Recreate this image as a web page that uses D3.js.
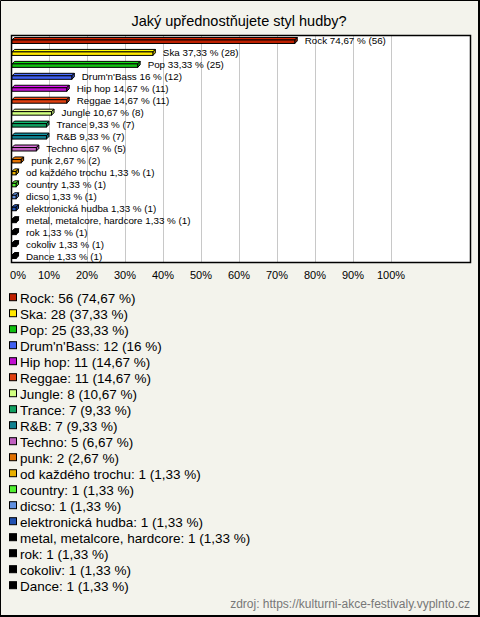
<!DOCTYPE html>
<html><head><meta charset="utf-8">
<script src="https://cdn.jsdelivr.net/npm/d3@7"></script>
<style>
html,body{margin:0;padding:0;background:#f3f3ec;}
svg{display:block;font-family:"Liberation Sans",Arial,sans-serif;}
</style></head>
<body>
<svg id="c" width="480" height="617"></svg>
<script>
const title = "Jaký upřednostňujete styl hudby?";
const categories = ["Rock","Ska","Pop","Drum'n'Bass","Hip hop","Reggae","Jungle","Trance","R&B","Techno","punk","od každého trochu","country","dicso","elektronická hudba","metal, metalcore, hardcore","rok","cokoliv","Dance"];
const counts = [56,28,25,12,11,11,8,7,7,5,2,1,1,1,1,1,1,1,1];
const percents = [74.67,37.33,33.33,16,14.67,14.67,10.67,9.33,9.33,6.67,2.67,1.33,1.33,1.33,1.33,1.33,1.33,1.33,1.33];
const colors = ["#c02000","#ffe800","#10c010","#4060f0","#c010d0","#e04010","#d0ff80","#10a060","#108090","#c060c0","#e07000","#e8b000","#50f030","#6090e0","#2050b0","#000000","#000000","#000000","#000000"];
const tickValues = [0,10,20,30,40,50,60,70,80,90,100];
const source = "zdroj: https://kulturni-akce-festivaly.vyplnto.cz";

const fmt = p => String(p).replace('.', ',');
const svg = d3.select("#c");
const W = 480, H = 617;

svg.append("rect").attr("x",0).attr("y",0).attr("width",W).attr("height",H).attr("fill","#f3f3ec");
// frame: thin top/left, thicker right/bottom
svg.append("path").attr("d",`M0.5,${H}L0.5,0.5L${W},0.5`).attr("fill","none").attr("stroke","#000").attr("stroke-width",1);
svg.append("path").attr("d",`M${W-1},0L${W-1},${H-1}L0,${H-1}`).attr("fill","none").attr("stroke","#000").attr("stroke-width",2);

svg.append("text").attr("x",239).attr("y",26).attr("text-anchor","middle")
  .attr("font-size",14.5).attr("fill","#000").text(title);

const plot = {x0:11, x1:470, y0:35, y1:262};
const x = d3.scaleLinear().domain([0,100]).range([11,391]);
const y = d3.scaleBand().domain(categories).range([plot.y0, plot.y1]).paddingInner(0);
const yc = c => y(c) + y.bandwidth()/2;

svg.append("rect").attr("x",plot.x0+0.5).attr("y",plot.y0+0.5)
  .attr("width",plot.x1-plot.x0).attr("height",plot.y1-plot.y0)
  .attr("fill","#fff");

const grid = svg.append("g");
grid.selectAll("line").data(tickValues.filter(t=>t>0)).join("line")
  .attr("x1",d=>Math.round(x(d))+0.5).attr("x2",d=>Math.round(x(d))+0.5)
  .attr("y1",plot.y0).attr("y2",plot.y1)
  .attr("stroke","#c8c8c8").attr("stroke-width",1);

svg.append("rect").attr("x",plot.x0+0.5).attr("y",plot.y0+0.5)
  .attr("width",plot.x1-plot.x0).attr("height",plot.y1-plot.y0)
  .attr("fill","none").attr("stroke","#000").attr("stroke-width",1.5);

const dx = 2.5, dy = 2.5, hFront = 3.5;
const bars = svg.append("g").selectAll("g").data(categories).join("g");
bars.each(function(c,i){
  const g = d3.select(this);
  const xl = x(0)+1, xr = x(percents[i]);
  const top = yc(c) - 1, bot = top + hFront;
  const col = d3.color(colors[i]);
  g.append("path").attr("d",`M${xl},${top}L${xl+dx},${top-dy}L${xr+dx},${top-dy}L${xr},${top}Z`)
    .attr("fill",col.brighter(0.4)).attr("stroke","#000").attr("stroke-width",1).attr("stroke-linejoin","round");
  g.append("path").attr("d",`M${xr},${top}L${xr+dx},${top-dy}L${xr+dx},${bot-dy}L${xr},${bot}Z`)
    .attr("fill",col.darker(0.6)).attr("stroke","#000").attr("stroke-width",1).attr("stroke-linejoin","round");
  g.append("rect").attr("x",xl).attr("y",top).attr("width",Math.max(0,xr-xl)).attr("height",hFront)
    .attr("fill",colors[i]).attr("stroke","#000").attr("stroke-width",1);
  g.append("text").attr("x",xr+10).attr("y",yc(c)+3.5).attr("font-size",9.8).attr("fill","#000")
    .text(`${c} ${fmt(percents[i])} % (${counts[i]})`);
});

const ticks = svg.append("g");
ticks.selectAll("text").data(tickValues).join("text")
  .attr("x",d=> d===0 ? x(d)+7 : x(d)).attr("y",279).attr("text-anchor","middle")
  .attr("font-size",11).attr("fill","#000").text(d=>d+"%");

const leg = svg.append("g").selectAll("g").data(categories).join("g")
  .attr("transform",(d,i)=>`translate(0,${297.7 + i*16})`);
leg.append("rect").attr("x",9.5).attr("y",-4).attr("width",7).attr("height",7)
  .attr("fill",(d,i)=>colors[i]).attr("stroke","#000").attr("stroke-width",1);
leg.append("text").attr("x",20).attr("y",4.8).attr("font-size",13.5).attr("fill","#000")
  .text((d,i)=>`${d}: ${counts[i]} (${fmt(percents[i])} %)`);

svg.append("text").attr("x",470).attr("y",608).attr("text-anchor","end")
  .attr("font-size",12).attr("fill","#777").text(source);
</script>
</body></html>
